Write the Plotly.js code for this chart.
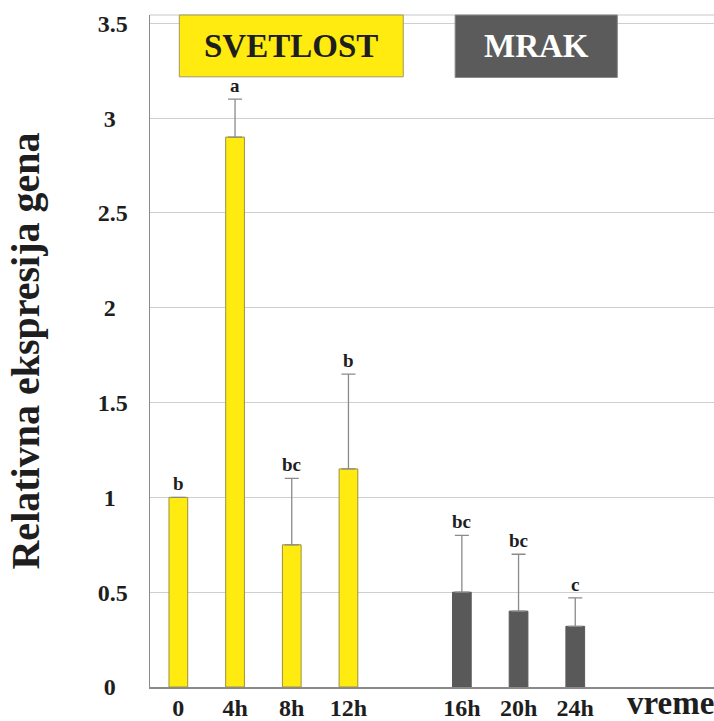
<!DOCTYPE html>
<html>
<head>
<meta charset="utf-8">
<script src="https://cdn.plot.ly/plotly-3.0.1.min.js"></script>
<style>html,body{margin:0;padding:0;background:#fff;}#chart{width:714px;height:721px;}</style>
</head>
<body>
<div id="chart"></div>
<script>
// ---- data ----
const lightCategories = ['0', '4h', '8h', '12h'];
const lightValues = [1.0, 2.9, 0.75, 1.15];
const lightErrors = [null, 0.2, 0.35, 0.5];
const lightLetters = ['b', 'a', 'bc', 'b'];

const darkCategories = ['16h', '20h', '24h'];
const darkValues = [0.5, 0.4, 0.32];
const darkErrors = [0.3, 0.3, 0.15];
const darkLetters = ['bc', 'bc', 'c'];

const yTickVals = [0, 0.5, 1, 1.5, 2, 2.5, 3, 3.5];

// ---- styling ----
const SERIF = 'Liberation Serif, Times New Roman, serif';
const TXT = '#1e1e1e';
const GAP = '\u00a0';
const categoryOrder = lightCategories.concat([GAP], darkCategories);

function errCfg(arr) {
  return {type: 'data', array: arr, arrayminus: arr.map(() => 0), symmetric: false,
          visible: true, color: '#8a8a8a', thickness: 1.3, width: 7};
}

const traces = [
  {type: 'bar', x: lightCategories, y: lightValues, width: 0.33,
   marker: {color: '#FFEB0F', line: {color: '#9c9040', width: 1}},
   error_y: errCfg(lightErrors), hoverinfo: 'skip', showlegend: false},
  {type: 'bar', x: darkCategories, y: darkValues, width: 0.33,
   marker: {color: '#595959', line: {color: '#595959', width: 1}},
   error_y: errCfg(darkErrors), hoverinfo: 'skip', showlegend: false}
];

const annotations = [];
function addLetters(cats, vals, errs, letters) {
  cats.forEach((c, i) => {
    annotations.push({x: c, y: vals[i] + (errs[i] || 0), xref: 'x', yref: 'y',
      text: letters[i], showarrow: false, yanchor: 'bottom', yshift: 1,
      font: {family: SERIF, size: 19, color: TXT, weight: 'bold'}});
  });
}
addLetters(lightCategories, lightValues, lightErrors, lightLetters);
addLetters(darkCategories, darkValues, darkErrors, darkLetters);

// header boxes
annotations.push({xref: 'paper', yref: 'paper', x: 0.2505, y: 0.954, text: 'SVETLOST',
  showarrow: false, xanchor: 'center', yanchor: 'middle',
  font: {family: SERIF, size: 33, color: TXT, weight: 'bold'}});
annotations.push({xref: 'paper', yref: 'paper', x: 0.685, y: 0.954, text: 'MRAK',
  showarrow: false, xanchor: 'center', yanchor: 'middle',
  font: {family: SERIF, size: 33, color: '#ffffff', weight: 'bold'}});
// axis label at the right end
annotations.push({xref: 'paper', yref: 'paper', x: 1.0, y: 0, text: 'vreme',
  showarrow: false, xanchor: 'right', yanchor: 'middle', yshift: -16, xshift: 2,
  font: {family: SERIF, size: 33, color: TXT, weight: 'bold'}});

const shapes = [
  {type: 'rect', xref: 'paper', yref: 'paper', x0: 0.052, x1: 0.449, y0: 0.908, y1: 1.0,
   fillcolor: '#FFEB0F', line: {color: '#a09a60', width: 1}, layer: 'above'},
  {type: 'rect', xref: 'paper', yref: 'paper', x0: 0.541, x1: 0.8286, y0: 0.907, y1: 1.0,
   fillcolor: '#5b5b5b', line: {color: '#8a8a8a', width: 1}, layer: 'above'},
  {type: 'line', xref: 'paper', yref: 'paper', x0: 0, x1: 1, y0: 1, y1: 1,
   line: {color: '#c8c8c8', width: 1.2}, layer: 'below'}
];

const layout = {
  width: 714, height: 721,
  margin: {l: 150, r: 0, t: 15, b: 34, pad: 0},
  paper_bgcolor: '#ffffff', plot_bgcolor: '#ffffff',
  bargap: 0.67,
  xaxis: {type: 'category', categoryorder: 'array', categoryarray: categoryOrder,
    range: [-0.5, 9.447], showgrid: false, zeroline: false,
    showline: true, linecolor: '#8a8a8a', linewidth: 1.5, ticks: '', ticklabelstandoff: -1,
    tickfont: {family: SERIF, size: 24, color: TXT, weight: 'bold'}, fixedrange: true},
  yaxis: {range: [0, 3.544], tickvals: yTickVals,
    ticktext: yTickVals.map(v => (Number.isInteger(v) ? String(v) + '\u00a0\u00a0' : String(v))),
    showgrid: true, gridcolor: '#cfcfcf', gridwidth: 1, zeroline: false,
    showline: true, linecolor: '#8a8a8a', linewidth: 1.5, ticks: '', ticklabelstandoff: 16,
    tickfont: {family: SERIF, size: 24, color: TXT, weight: 'bold'},
    title: {text: 'Relativna ekspresija gena', standoff: 45,
      font: {family: SERIF, size: 40, color: TXT, weight: 'bold'}},
    automargin: false, fixedrange: true},
  annotations: annotations,
  shapes: shapes,
  showlegend: false
};

Plotly.newPlot('chart', traces, layout, {displayModeBar: false, staticPlot: true});
</script>
</body>
</html>
